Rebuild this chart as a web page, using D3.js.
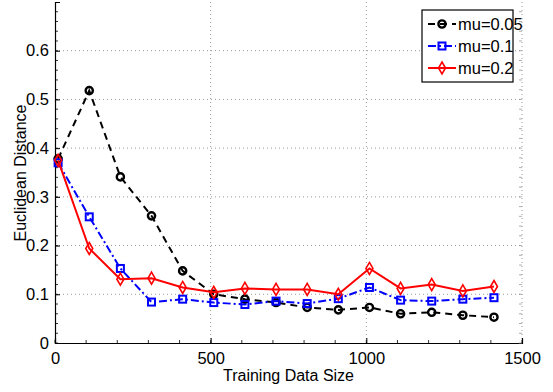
<!DOCTYPE html>
<html>
<head>
<meta charset="utf-8">
<script src="https://cdn.jsdelivr.net/npm/d3@7"></script>
<style>
body { margin: 0; background: #fff; }
text { font-family: "Liberation Sans Narrow", "Arial Narrow", "Liberation Sans", sans-serif; }
</style>
</head>
<body>
<div id="chart"></div>
<script>
// data
var sizes = [10, 110, 210, 310, 410, 510, 610, 710, 810, 910, 1010, 1110, 1210, 1310, 1410];
var mu005 = [0.378, 0.518, 0.341, 0.261, 0.148, 0.100, 0.090, 0.083, 0.073, 0.068, 0.073, 0.060, 0.063, 0.057, 0.053];
var mu01 = [0.370, 0.259, 0.153, 0.084, 0.090, 0.083, 0.079, 0.086, 0.081, 0.091, 0.114, 0.088, 0.086, 0.090, 0.093];
var mu02 = [0.375, 0.194, 0.131, 0.133, 0.114, 0.104, 0.112, 0.110, 0.110, 0.100, 0.153, 0.112, 0.120, 0.107, 0.116];
var seriesNames = ["mu=0.05", "mu=0.1", "mu=0.2"];
var xTicks = [0, 500, 1000, 1500];
var yTicks = [0, 0.1, 0.2, 0.3, 0.4, 0.5, 0.6];

var svgWidth = 553;
var svgHeight = 392;
var margin = { top: 2, right: 31, bottom: 49, left: 55 };
var width = svgWidth - margin.left - margin.right;
var height = svgHeight - margin.top - margin.bottom;

var svg = d3.select("#chart")
    .append("svg")
    .attr("width", svgWidth)
    .attr("height", svgHeight);

var chartGroup = svg.append("g")
    .attr("transform", `translate(${margin.left}, ${margin.top})`);

var xScale = d3.scaleLinear().domain([0, 1500]).range([0, width]);
var yScale = d3.scaleLinear().domain([0, 0.7]).range([height, 0]);

// dotted grid
chartGroup.selectAll(".gx").data(xTicks.slice(1)).enter().append("line")
    .attr("x1", d => xScale(d)).attr("x2", d => xScale(d))
    .attr("y1", 0).attr("y2", height)
    .attr("stroke", "#999").attr("stroke-width", 1).attr("stroke-dasharray", "1,3");
chartGroup.selectAll(".gy").data(yTicks.slice(1)).enter().append("line")
    .attr("x1", 0).attr("x2", width)
    .attr("y1", d => yScale(d)).attr("y2", d => yScale(d))
    .attr("stroke", "#999").attr("stroke-width", 1).attr("stroke-dasharray", "1,3");

// axes
var xAxis = d3.axisBottom(xScale).tickValues(xTicks).tickSize(-5).tickPadding(9).tickFormat(d3.format("d"));
var yAxis = d3.axisLeft(yScale).tickValues(yTicks).tickSize(-5).tickPadding(6).tickFormat(d => d === 0 ? "0" : d3.format(".1f")(d));

var gx = chartGroup.append("g").attr("transform", `translate(0, ${height})`).call(xAxis);
var gy = chartGroup.append("g").call(yAxis);
[gx, gy].forEach(g => {
    g.select(".domain").attr("stroke", "#000").attr("stroke-width", 1.2);
    g.selectAll("text").attr("font-size", 16.5).attr("fill", "#000");
    g.selectAll(".tick line").attr("stroke", "#000");
});

// minor ticks
var minorY = d3.range(0, 0.7, 0.02);
chartGroup.selectAll(".my").data(minorY).enter().append("line")
    .attr("x1", 0).attr("x2", 3)
    .attr("y1", d => yScale(d)).attr("y2", d => yScale(d))
    .attr("stroke", "#000").attr("stroke-width", 0.8);
chartGroup.selectAll(".myr").data(minorY).enter().append("line")
    .attr("x1", width).attr("x2", width - 3)
    .attr("y1", d => yScale(d)).attr("y2", d => yScale(d))
    .attr("stroke", "#999").attr("stroke-width", 0.8);
var minorX = d3.range(0, 1501, 100);
chartGroup.selectAll(".mx").data(minorX).enter().append("line")
    .attr("x1", d => xScale(d)).attr("x2", d => xScale(d))
    .attr("y1", height).attr("y2", height - 3)
    .attr("stroke", "#000").attr("stroke-width", 0.8);

// axis labels
svg.append("text")
    .attr("x", margin.left + xScale(750)).attr("y", 381)
    .attr("text-anchor", "middle").attr("font-size", 16)
    .text("Training Data Size");
svg.append("text")
    .attr("transform", `translate(26, 173) rotate(-90)`)
    .attr("text-anchor", "middle").attr("font-size", 16)
    .text("Euclidean Distance");

var series = [
    { name: seriesNames[0], values: mu005, color: "#000", dash: "7,5", marker: "circle" },
    { name: seriesNames[1], values: mu01, color: "#0000ff", dash: "8,3,2,3", marker: "square" },
    { name: seriesNames[2], values: mu02, color: "#ff0000", dash: null, marker: "diamond" }
];

var line = d3.line()
    .x((d, i) => xScale(sizes[i]))
    .y(d => yScale(d));

function drawMarker(g, type, color, x, y) {
    if (type === "circle") {
        g.append("circle").attr("cx", x).attr("cy", y).attr("r", 3.6)
            .attr("fill", "none").attr("stroke", color).attr("stroke-width", 2.4);
    } else if (type === "square") {
        g.append("rect").attr("x", x - 3.5).attr("y", y - 3.5).attr("width", 7).attr("height", 7)
            .attr("fill", "none").attr("stroke", color).attr("stroke-width", 2);
    } else {
        g.append("path").attr("d", `M${x},${y - 6}L${x + 3.5},${y}L${x},${y + 6}L${x - 3.5},${y}Z`)
            .attr("fill", "none").attr("stroke", color).attr("stroke-width", 1.6);
    }
}

series.forEach(s => {
    chartGroup.append("path")
        .datum(s.values)
        .attr("d", line)
        .attr("fill", "none")
        .attr("stroke", s.color)
        .attr("stroke-width", 2)
        .attr("stroke-dasharray", s.dash);
    var mg = chartGroup.append("g");
    s.values.forEach((v, i) => drawMarker(mg, s.marker, s.color, xScale(sizes[i]), yScale(v)));
});

// legend
var legend = svg.append("g").attr("transform", "translate(422, 10)");
legend.append("rect").attr("width", 91).attr("height", 72)
    .attr("fill", "#fff").attr("stroke", "#000").attr("stroke-width", 1.2);
series.forEach((s, i) => {
    var y = 14 + i * 22;
    legend.append("line").attr("x1", 6).attr("x2", 34).attr("y1", y).attr("y2", y)
        .attr("stroke", s.color).attr("stroke-width", 2).attr("stroke-dasharray", s.dash);
    drawMarker(legend, s.marker, s.color, 20, y);
    legend.append("text").attr("x", 36).attr("y", y + 6).attr("font-size", 16.5).text(s.name);
});
</script>
</body>
</html>
